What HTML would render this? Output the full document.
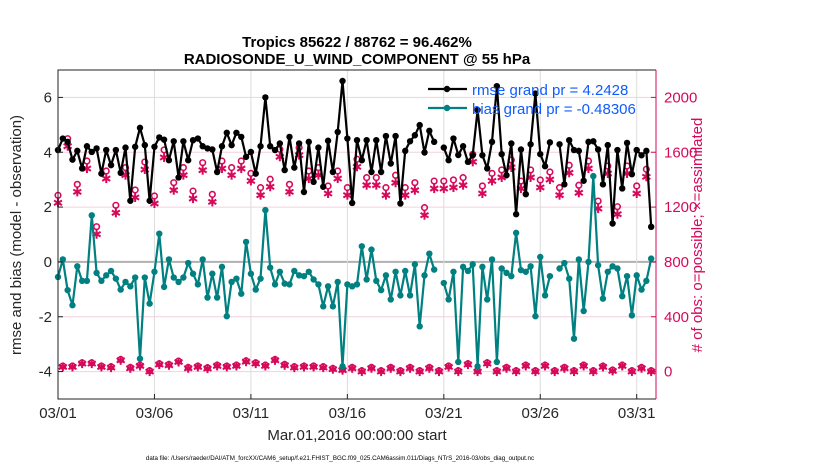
<!DOCTYPE html>
<html><head><meta charset="utf-8"><style>
body{margin:0;background:#fff;width:830px;height:470px;overflow:hidden;font-family:"Liberation Sans",Arial,sans-serif}
</style></head><body>
<svg id="chart" width="830" height="470" xmlns="http://www.w3.org/2000/svg" font-family="Liberation Sans, Arial, sans-serif"></svg>
<script>
const rmse=[4.08,4.5,4.38,3.73,4.05,3.41,4.22,4.01,4.14,3.22,4.08,3.53,4.08,3.25,4.17,2.23,4.2,4.89,4.26,2.23,4.2,4.54,4.46,3.71,4.4,3.08,4.4,3.71,4.44,4.5,
4.22,4.14,4.1,3.28,4.22,4.71,4.26,4.71,4.56,3.83,4.01,3.22,4.22,6.0,4.22,4.08,4.32,3.35,4.56,3.44,4.32,2.55,4.38,2.92,4.17,2.74,4.42,3.28,4.74,6.6,
4.5,2.15,4.44,3.71,4.44,3.28,4.44,3.28,4.59,3.59,4.59,2.13,4.05,4.4,4.62,4.99,3.99,4.78,4.38,null,4.17,3.71,4.5,3.9,4.22,3.65,3.89,5.54,3.89,3.41,
4.38,6.41,3.93,3.16,4.32,1.74,4.1,2.47,4.29,6.14,3.93,3.49,4.36,null,4.29,2.83,4.44,4.08,4.05,2.96,4.38,4.4,4.1,2.83,4.26,1.4,4.08,2.68,4.34,3.2,4.08,3.89,4.05,1.28];
const bias=[-0.55,0.09,-1.03,-1.58,-0.16,-0.69,-0.69,1.7,-0.4,-0.69,-0.49,-0.33,-0.61,-1.01,-0.73,-0.89,-0.57,-3.53,-0.57,-1.52,-0.36,1.03,-0.91,0.09,-0.57,-0.73,-0.57,-0.04,-0.43,-0.82,
0.09,-1.3,-0.43,-1.3,-0.18,-1.98,-0.73,-0.61,-1.16,0.73,-0.43,-1.01,-0.61,1.89,-0.21,-0.82,-0.36,-0.79,-0.82,-0.33,-0.49,-0.52,-0.36,-0.64,-0.82,-1.62,-0.89,-1.62,-0.73,-3.81,
-0.82,-0.89,-0.82,0.57,-0.64,0.45,-0.69,-1.03,-0.49,-1.37,-0.36,-1.22,-0.33,-1.22,-0.09,-2.35,-0.49,0.3,-0.28,null,-0.77,-1.37,-0.36,-3.65,-0.18,-0.33,-0.09,-3.81,-0.18,-1.37,
0.09,-3.65,-0.24,-0.4,-0.52,1.06,-0.3,-0.36,-0.16,-1.98,0.18,-1.22,-0.52,null,-0.24,-0.04,-0.61,-2.8,0.09,-1.79,0,3.13,-0.12,-1.34,-0.36,-0.16,-0.24,-1.25,-0.52,-1.95,-0.49,-1.01,-0.69,0.12];
// obs counts at 00Z/12Z (even steps) and 06Z/18Z (odd steps)
const assimEven=[1231,1644,1311,1481,1002,1408,1158,1433,1270,1474,1226,1562,1323,1433,1262,1469,1238,1481,1433,1481,1391,1287,1348,1567,1311,1579,1408,1433,1299,1408,1287,1494,1360,1360,1287,1377,1287,1323,1141,1335,1335,1343,1360,1530,1299,1391,1416,1489,1335,1416,1343,1401,1287,1450,1304,1481,1189,1445,1148,1445,1299,1421];
const possEven=[1286,1699,1366,1536,1057,1463,1213,1488,1325,1529,1281,1617,1378,1488,1317,1524,1293,1536,1488,1536,1446,1342,1403,1622,1366,1634,1463,1488,1354,1463,1342,1549,1415,1415,1342,1432,1342,1378,1196,1390,1390,1398,1415,1585,1354,1446,1471,1544,1390,1471,1398,1456,1342,1505,1359,1536,1244,1500,1203,1500,1354,1476];
const assimOdd=[34,34,58,58,34,29,82,24,41,0,51,46,70,24,34,22,41,34,41,72,58,41,82,46,29,34,34,29,17,10,24,0,24,0,24,0,24,0,24,0,34,0,51,0,58,0,24,0,41,0,41,0,24,0,41,0,34,5,41,0,24,0];
const possOdd=[40,40,64,64,40,35,88,30,47,6,57,52,76,30,40,28,47,40,47,78,64,47,88,52,35,40,40,35,23,16,30,6,30,6,30,6,30,6,30,6,40,6,57,6,64,6,30,6,47,6,47,6,30,6,47,6,40,11,47,6,30,6];
const xTickLabels=["03/01","03/06","03/11","03/16","03/21","03/26","03/31"];
const xTickDays=[0,5,10,15,20,25,30];
const yTicks=[-4,-2,0,2,4,6];
const rTicks=[0,400,800,1200,1600,2000];

const NS="http://www.w3.org/2000/svg";
const svg=document.getElementById('chart');
const L=58,R=656,T=70,B=399;
const X=d=>L+(d/31)*(R-L);
const Xi=i=>X(i*0.25);
const Y=v=>T+(7-v)/12*(B-T);
const YR=c=>Y(c/200-4);
const PINK="#d6095a",TEAL="#008080";
function el(tag,at,parent){const e=document.createElementNS(NS,tag);for(const k in at)e.setAttribute(k,at[k]);(parent||svg).appendChild(e);return e;}
function txt(s,at,parent){const e=el('text',at,parent);e.textContent=s;return e;}

yTicks.forEach(v=>{const g=el('line',{x1:L,x2:R,y1:Y(v),y2:Y(v),stroke:v===0?'#b0b0b0':'#f3d0dc','stroke-width':v===0?2:1});

});
xTickDays.forEach(d=>{const g=el('line',{x1:X(d),x2:X(d),y1:T,y2:B,stroke:'#dcdcdc','stroke-width':1});

});

function series(arr,color,name){
  let d='',pen=false;
  arr.forEach((v,i)=>{if(v===null){pen=false;return;}d+=(pen?'L':'M')+Xi(i).toFixed(1)+' '+Y(v).toFixed(1);pen=true;});
  const p=el('path',{d:d,fill:'none',stroke:color,'stroke-width':2.2,'stroke-linejoin':'round'});
  
  
  arr.forEach((v,i)=>{if(v===null)return;const c=el('circle',{cx:Xi(i),cy:Y(v),r:3.2,fill:color});
  
  });
}
function star(x,y){const g=el('g',{stroke:PINK,'stroke-width':2});


[[0,-4.5,0,4.5],[-4,-2.3,4,2.3],[-4,2.3,4,-2.3]].forEach(s=>el('line',{x1:x+s[0],y1:y+s[1],x2:x+s[2],y2:y+s[3]},g));}
function ring(x,y){const c=el('circle',{cx:x,cy:y,r:2.8,fill:'none',stroke:PINK,'stroke-width':1.6});

}
assimEven.forEach((v,k)=>{ring(Xi(2*k),YR(possEven[k]));star(Xi(2*k),YR(v));});
assimOdd.forEach((v,k)=>{ring(Xi(2*k+1),YR(possOdd[k]));star(Xi(2*k+1),YR(v));});
series(bias,TEAL,'bias');
series(rmse,'#000','rmse');

const fr=el('path',{d:`M${R} ${T}H${L}V${B}H${R}`,fill:'none',stroke:'#222','stroke-width':1});


const rs=el('line',{x1:R,x2:R,y1:T,y2:B,stroke:PINK,'stroke-width':1});



yTicks.forEach(v=>{el('line',{x1:L,x2:L+5,y1:Y(v),y2:Y(v),stroke:'#222'});
const t=txt(String(v),{x:L-6,y:Y(v)+5,'text-anchor':'end','font-size':15,fill:'#262626'});

});
rTicks.forEach(v=>{el('line',{x1:R-5,x2:R,y1:YR(v),y2:YR(v),stroke:PINK});
const t=txt(String(v),{x:R+8,y:YR(v)+5,'font-size':15,fill:PINK});

});
xTickLabels.forEach((s,k)=>{el('line',{x1:X(xTickDays[k]),x2:X(xTickDays[k]),y1:B,y2:B-5,stroke:'#222'});
const t=txt(s,{x:X(xTickDays[k]),y:418,'text-anchor':'middle','font-size':15,fill:'#262626'});

});
</script>
<svg style="position:absolute;left:0;top:0" width="830" height="470" font-family="Liberation Sans, Arial, sans-serif">
<text x="357" y="47" text-anchor="middle" font-size="15" font-weight="bold" fill="#000">Tropics 85622 / 88762 = 96.462%</text>
<text x="357" y="64" text-anchor="middle" font-size="15" font-weight="bold" fill="#000">RADIOSONDE_U_WIND_COMPONENT @ 55 hPa</text>
<text transform="translate(21,235) rotate(-90)" text-anchor="middle" font-size="15" fill="#262626">rmse and bias (model - observation)</text>
<text transform="translate(702,235) rotate(-90)" text-anchor="middle" font-size="15" fill="#d6095a"># of obs: o=possible; ×=assimilated</text>
<text x="357" y="440" text-anchor="middle" font-size="15" fill="#262626">Mar.01,2016 00:00:00 start</text>
<text x="340" y="460" text-anchor="middle" font-size="6.2" fill="#000">data file: /Users/raeder/DAI/ATM_forcXX/CAM6_setup/f.e21.FHIST_BGC.f09_025.CAM6assim.011/Diags_NTrS_2016-03/obs_diag_output.nc</text>
<g>
<line x1="428" x2="467" y1="89" y2="89" stroke="#000" stroke-width="2.2"/><circle cx="447" cy="89" r="3.2" fill="#000"/>
<text x="472" y="95" font-size="15" fill="#0f5bff">rmse grand pr = 4.2428</text>
<line x1="428" x2="467" y1="108" y2="108" stroke="#008080" stroke-width="2.2"/><circle cx="447" cy="108" r="3.2" fill="#008080"/>
<text x="472" y="114" font-size="15" fill="#0f5bff">bias grand pr = -0.48306</text>
</g>
</svg>
</body></html>
